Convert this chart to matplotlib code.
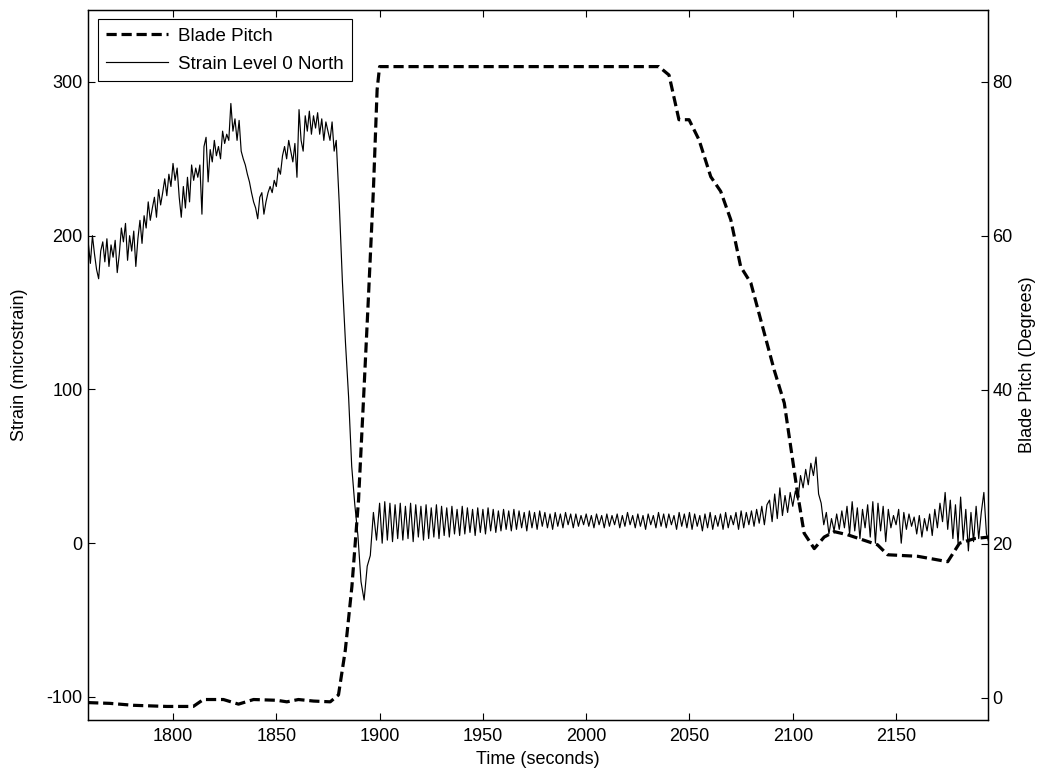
import numpy as np
import matplotlib
matplotlib.use("Agg")
import matplotlib.pyplot as plt

plt.rcParams['font.family'] = ['Liberation Sans', 'DejaVu Sans']
plt.rcParams['axes.unicode_minus'] = False

# ---------------- data ----------------
# Blade pitch (degrees) vs time (s)
pitch_time = [1758.9, 1769.5, 1780.8, 1797.0, 1809.8, 1814.7, 1824.4, 1831.7, 1839.0,
              1850.3, 1855.1, 1860.7, 1868.0, 1876.1, 1880.1, 1883.4, 1886.6, 1889.8,
              1892.2, 1894.5, 1897.0, 1898.8, 1900.0, 2035.2, 2040.1, 2044.9, 2049.8,
              2054.6, 2060.3, 2065.1, 2070.0, 2074.8, 2079.7, 2084.5, 2091.0, 2095.9,
              2098.3, 2102.3, 2105.5, 2110.4, 2115.2, 2120.1, 2126.5, 2141.0, 2145.9,
              2160.5, 2175.0, 2180.7, 2188.0, 2195.0]
pitch_deg = [-0.6, -0.7, -0.95, -1.1, -1.1, -0.2, -0.2, -0.8, -0.2,
             -0.3, -0.5, -0.2, -0.4, -0.5, 0.4, 6.2, 14.5, 25.7,
             38.7, 51.5, 66.0, 79.0, 82.0, 82.0, 80.9, 75.1, 75.1,
             72.5, 67.7, 65.8, 62.1, 56.0, 53.9, 49.1, 42.6, 38.3,
             33.9, 26.6, 21.4, 19.4, 20.9, 21.6, 21.2, 19.9, 18.6,
             18.4, 17.7, 20.1, 20.7, 20.9]

# Strain (microstrain), in four segments: (start time, sample step, values)
strain_a_start, strain_a_step = 1759.0, 1.0
strain_a = [195, 182, 200, 188, 178, 172, 190, 196, 183, 198,
            180, 194, 186, 197, 176, 188, 205, 196, 208, 184,
            200, 190, 203, 180, 198, 210, 195, 213, 205, 222,
            210, 218, 225, 212, 230, 220, 228, 237, 226, 240,
            232, 247, 236, 244, 225, 212, 232, 218, 238, 222,
            246, 236, 244, 238, 246, 214, 258, 264, 235, 256,
            248, 262, 252, 258, 250, 268, 260, 266, 262, 286,
            268, 276, 262, 275, 255, 250, 246, 240, 235, 228,
            222, 218, 211, 225, 228, 214, 222, 228, 232, 228,
            236, 232, 244, 240, 252, 258, 250, 262, 255, 248,
            260, 238, 282, 262, 255, 278, 268, 281, 266, 278,
            270, 280, 266, 276, 262, 274, 268, 262, 274, 255]

strain_b_start, strain_b_step = 1879.0, 1.5
strain_b = [262, 220, 170, 130, 95, 50, 25, 5, -25, -37, -15, -8, 20, 2, 26]

strain_c_start, strain_c_step = 1901.25, 1.25
strain_c = [0, 27, 2, 26, 1, 25, 3, 26, 2, 24,
            3, 26, 1, 25, 4, 24, 2, 25, 3, 23,
            4, 25, 3, 24, 5, 23, 4, 24, 6, 22,
            5, 24, 6, 23, 7, 22, 5, 23, 7, 22,
            6, 23, 8, 22, 7, 21, 8, 22, 9, 21,
            8, 22, 9, 21, 10, 20, 8, 21, 10, 20,
            9, 21, 11, 20, 10, 19, 9, 20, 11, 19,
            10, 20, 12, 19, 10, 19, 11, 18, 12, 19,
            11, 18, 10, 19, 12, 18, 10, 19, 11, 18,
            12, 19, 10, 18, 11, 20, 12, 18, 10, 19,
            11, 18, 9, 19, 12, 18, 10, 20, 11, 19,
            10, 19, 12, 18, 9, 20, 11, 19, 10, 20,
            9, 19, 11, 18, 8, 19, 10, 20, 9, 18,
            11, 19, 9, 20, 10, 18, 12, 20, 9, 21,
            10, 20, 12, 21, 11, 22, 13, 24, 12, 25]

strain_d_start, strain_d_step = 2088.75, 1.25
strain_d = [28, 14, 32, 16, 36, 18, 31, 20, 33, 24,
            34, 28, 44, 36, 48, 38, 52, 44, 56, 32,
            26, 12, 20, 6, 16, 8, 19, 9, 21, 10,
            24, 6, 27, 8, 23, 3, 22, 10, 25, 4,
            27, 0, 26, 8, 24, 1, 22, 10, 18, 12,
            22, 0, 20, 9, 19, 11, 17, 6, 18, 4,
            16, 8, 19, 5, 22, 10, 26, 14, 33, 9,
            28, 3, 25, 0, 30, 2, 22, -5, 20, 1,
            24, 3, 20, 33, 6, 0]

x_ticks = [1800, 1850, 1900, 1950, 2000, 2050, 2100, 2150]
strain_ticks = [-100, 0, 100, 200, 300]
pitch_ticks = [0, 20, 40, 60, 80]

# ---------------- build strain series ----------------
seg_t, seg_v = [], []
for start, step, vals in [(strain_a_start, strain_a_step, strain_a),
                          (strain_b_start, strain_b_step, strain_b),
                          (strain_c_start, strain_c_step, strain_c),
                          (strain_d_start, strain_d_step, strain_d)]:
    seg_t.append(start + step * np.arange(len(vals)))
    seg_v.append(np.asarray(vals, dtype=float))
strain_time = np.concatenate(seg_t)
strain_val = np.concatenate(seg_v)

# ---------------- figure ----------------
W, H = 1048, 774
fig = plt.figure(figsize=(W / 100, H / 100), dpi=100)
L, R, T, B = 88, 988, 10, 720
ax = fig.add_axes([L / W, 1 - B / H, (R - L) / W, (B - T) / H])
ax2 = ax.twinx()

fs = 13
line_s, = ax.plot(strain_time, strain_val, color='black', lw=0.85,
                  label='Strain Level 0 North')
line_p, = ax2.plot(pitch_time, pitch_deg, color='black', lw=2.3,
                   linestyle=(0, (3.2, 1.5)), label='Blade Pitch')

ax.set_xlim(1758.85, 2194.5)
ax.set_ylim(-115.0, 346.8)
ax2.set_ylim(-2.86, 89.35)

ax.set_xticks(x_ticks)
ax.set_yticks(strain_ticks)
ax2.set_yticks(pitch_ticks)

for a in (ax, ax2):
    for sp in a.spines.values():
        sp.set_linewidth(0.9)
        sp.set_color('black')

ax.tick_params(axis='x', direction='in', top=True, bottom=True, length=5,
               width=0.8, labelsize=fs, pad=6)
ax.tick_params(axis='y', direction='in', left=True, right=False, length=5,
               width=0.8, labelsize=fs, pad=4)
ax2.tick_params(axis='y', direction='in', right=True, left=False, length=5,
                width=0.8, labelsize=fs, pad=3)

ax.set_xlabel('Time (seconds)', fontsize=fs, labelpad=4)
ax.set_ylabel('Strain (microstrain)', fontsize=fs, labelpad=13.5)
ax2.set_ylabel('Blade Pitch (Degrees)', fontsize=fs, labelpad=4.6)

leg = ax.legend([line_p, line_s], ['Blade Pitch', 'Strain Level 0 North'],
                loc='upper left', bbox_to_anchor=(10 / (R - L), 1 - 9 / (B - T)),
                borderaxespad=0, fontsize=13.5, fancybox=False, framealpha=1,
                edgecolor='black', handlelength=3.3, handletextpad=0.53,
                labelspacing=0.6, borderpad=0.45)
leg.get_frame().set_linewidth(0.8)
ax2.set_zorder(ax.get_zorder() + 1)
ax2.patch.set_visible(False)
leg.remove()
ax2.add_artist(leg)

fig.savefig('out.png', dpi=100)
